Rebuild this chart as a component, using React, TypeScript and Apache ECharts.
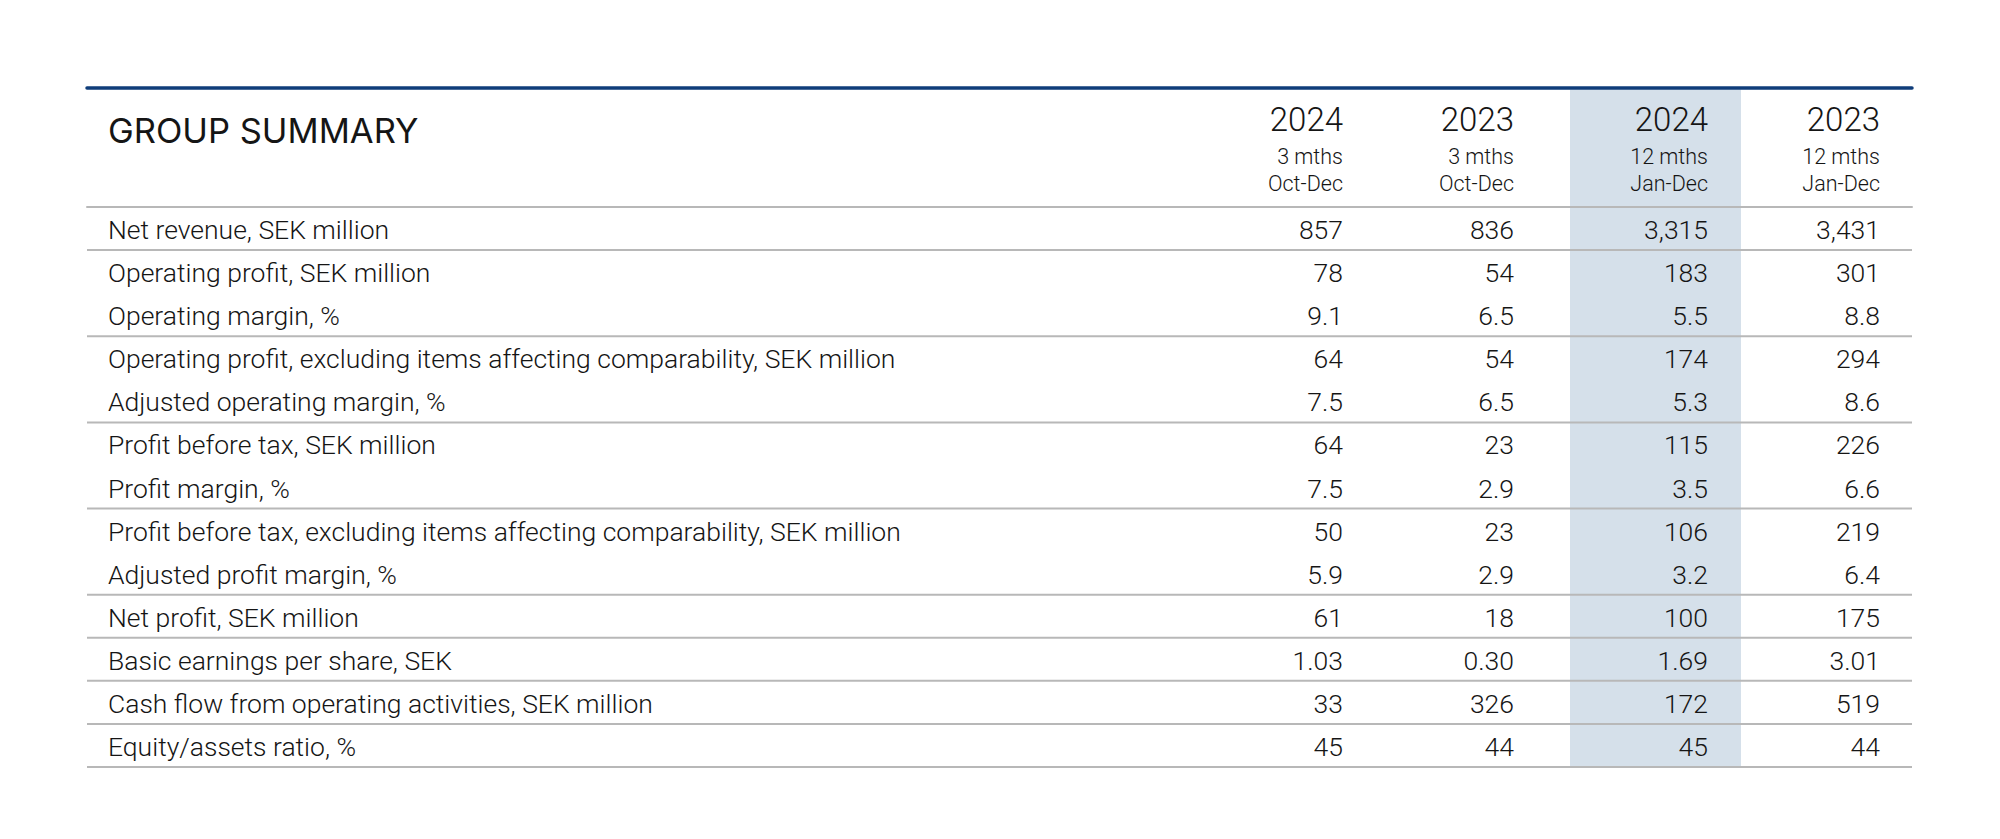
import React, { useEffect, useRef } from "react";
import * as echarts from "echarts";

const TITLE = "GROUP SUMMARY";
const columnYears = ["2024", "2023", "2024", "2023"];
const columnPeriods = ["3 mths", "3 mths", "12 mths", "12 mths"];
const columnRanges = ["Oct-Dec", "Oct-Dec", "Jan-Dec", "Jan-Dec"];
const highlightedColumn = 2;

const rowLabels = [
  "Net revenue, SEK million",
  "Operating profit, SEK million",
  "Operating margin, %",
  "Operating profit, excluding items affecting comparability, SEK million",
  "Adjusted operating margin, %",
  "Profit before tax, SEK million",
  "Profit margin, %",
  "Profit before tax, excluding items affecting comparability, SEK million",
  "Adjusted profit margin, %",
  "Net profit, SEK million",
  "Basic earnings per share, SEK",
  "Cash flow from operating activities, SEK million",
  "Equity/assets ratio, %",
];
const q4_2024 = ["857", "78", "9.1", "64", "7.5", "64", "7.5", "50", "5.9", "61", "1.03", "33", "45"];
const q4_2023 = ["836", "54", "6.5", "54", "6.5", "23", "2.9", "23", "2.9", "18", "0.30", "326", "44"];
const fy_2024 = ["3,315", "183", "5.5", "174", "5.3", "115", "3.5", "106", "3.2", "100", "1.69", "172", "45"];
const fy_2023 = ["3,431", "301", "8.8", "294", "8.6", "226", "6.6", "219", "6.4", "175", "3.01", "519", "44"];
const ruleAfterRow = [true, false, true, false, true, false, true, false, true, true, true, true, true];

// layout (x-axis units = table-relative pixels)
const TABLE_W = 1825;
const HEADER_H = 120;
const LABEL_X = 21;
const COL_RIGHT = [1256, 1427, 1621, 1793];
const HL_RANGE = [1483, 1654];
const TITLE_FONT = "Inter, 'Noto Sans', sans-serif";
const FONT = "Roboto, 'Noto Sans', sans-serif";
const WEIGHT = 300;
const TEXT = "#151515";
const RULE = "#b8b8b8";
const NAVY = "#0f3d7a";
const HL_FILL = "#d5e0ea";

const columns = [q4_2024, q4_2023, fy_2024, fy_2023];

export default function App() {
  const ref = useRef<HTMLDivElement>(null);
  useEffect(() => {
    if (!ref.current) return;
    const chart = echarts.init(ref.current, undefined, { renderer: "svg" });
    const option: any = {
      animation: false,
      backgroundColor: "#ffffff",
      grid: [
        { left: 87, top: 88, width: TABLE_W, height: HEADER_H - 1 },
        { left: 87, top: 207, width: TABLE_W, height: 560 },
      ],
      xAxis: [
        {
          gridIndex: 0, type: "value", min: 0, max: TABLE_W, position: "top", z: 10,
          axisLine: { show: true, lineStyle: { color: NAVY, width: 3.5 } },
          axisTick: { show: false }, axisLabel: { show: false }, splitLine: { show: false },
        },
        {
          gridIndex: 1, type: "value", min: 0, max: TABLE_W, position: "top", z: 10,
          axisLine: { show: true, lineStyle: { color: RULE, width: 2 } },
          axisTick: { show: false }, axisLabel: { show: false }, splitLine: { show: false },
        },
      ],
      yAxis: [
        { gridIndex: 0, type: "value", min: 0, max: HEADER_H - 1, inverse: true, show: false },
        { gridIndex: 1, type: "category", data: rowLabels, inverse: true, show: false },
      ],
      series: [
        {
          type: "custom",
          xAxisIndex: 0,
          yAxisIndex: 0,
          z: 2,
          data: [[0, 0]],
          renderItem: (params: any, api: any) => {
            const children: any[] = [];
            const a = api.coord([HL_RANGE[0], 1.5]);
            const b = api.coord([HL_RANGE[1], HEADER_H - 1]);
            children.push({
              type: "rect",
              shape: { x: a[0], y: a[1], width: b[0] - a[0], height: b[1] - a[1] + 2 },
              style: { fill: HL_FILL },
            });
            const t = api.coord([LABEL_X, 42]);
            children.push({
              type: "text",
              x: t[0], y: t[1],
              style: { text: TITLE, fill: TEXT, fontSize: 34.5, fontFamily: TITLE_FONT, align: "left", verticalAlign: "middle" },
            });
            for (let k = 0; k < columnYears.length; k++) {
              const p1 = api.coord([COL_RIGHT[k], 31]);
              const p2 = api.coord([COL_RIGHT[k], 68.5]);
              const p3 = api.coord([COL_RIGHT[k], 95]);
              children.push({
                type: "text", x: p1[0], y: p1[1],
                style: { text: columnYears[k], fill: TEXT, fontSize: 33, fontWeight: WEIGHT, fontFamily: FONT, align: "right", verticalAlign: "middle" },
              });
              children.push({
                type: "text", x: p2[0], y: p2[1],
                style: { text: columnPeriods[k], fill: TEXT, fontSize: 21.5, fontWeight: WEIGHT, fontFamily: FONT, align: "right", verticalAlign: "middle" },
              });
              children.push({
                type: "text", x: p3[0], y: p3[1],
                style: { text: columnRanges[k], fill: TEXT, fontSize: 21.5, fontWeight: WEIGHT, fontFamily: FONT, align: "right", verticalAlign: "middle" },
              });
            }
            return { type: "group", children };
          },
        },
        {
          type: "custom",
          xAxisIndex: 1,
          yAxisIndex: 1,
          z: 1,
          data: [[0, 0]],
          encode: { x: 0, y: 1 },
          renderItem: (params: any, api: any) => {
            const bandH = api.size([0, 1])[1];
            const top = api.coord([HL_RANGE[0], 0]);
            const bottom = api.coord([HL_RANGE[1], rowLabels.length - 1]);
            return {
              type: "rect",
              shape: {
                x: top[0], y: top[1] - bandH / 2,
                width: bottom[0] - top[0], height: bottom[1] - top[1] + bandH,
              },
              style: { fill: HL_FILL },
            };
          },
        },
        {
          type: "custom",
          xAxisIndex: 1,
          yAxisIndex: 1,
          z: 3,
          data: rowLabels.map((_, i) => [0, i]),
          encode: { x: 0, y: 1 },
          renderItem: (params: any, api: any) => {
            const i = api.value(1);
            const bandH = api.size([0, 1])[1];
            const children: any[] = [];
            const lp = api.coord([LABEL_X, i]);
            children.push({
              type: "text", x: lp[0], y: lp[1] + 1,
              style: { text: rowLabels[i], fill: TEXT, fontSize: 26.5, fontWeight: WEIGHT, fontFamily: FONT, align: "left", verticalAlign: "middle" },
            });
            for (let k = 0; k < columns.length; k++) {
              const p = api.coord([COL_RIGHT[k], i]);
              children.push({
                type: "text", x: p[0], y: p[1] + 1,
                style: { text: columns[k][i], fill: TEXT, fontSize: 26.5, fontWeight: WEIGHT, fontFamily: FONT, align: "right", verticalAlign: "middle" },
              });
            }
            if (ruleAfterRow[i]) {
              const l = api.coord([0, i]);
              const r = api.coord([TABLE_W, i]);
              const y = l[1] + bandH / 2;
              children.push({
                type: "line",
                shape: { x1: l[0], y1: y, x2: r[0], y2: y },
                style: { stroke: RULE, lineWidth: 2 },
              });
            }
            return { type: "group", children };
          },
        },
      ],
    };
    chart.setOption(option);
    return () => chart.dispose();
  }, []);
  return (
    <div
      ref={ref}
      style={{ position: "absolute", left: 0, top: 0, width: 2000, height: 839, background: "#fff" }}
    />
  );
}
